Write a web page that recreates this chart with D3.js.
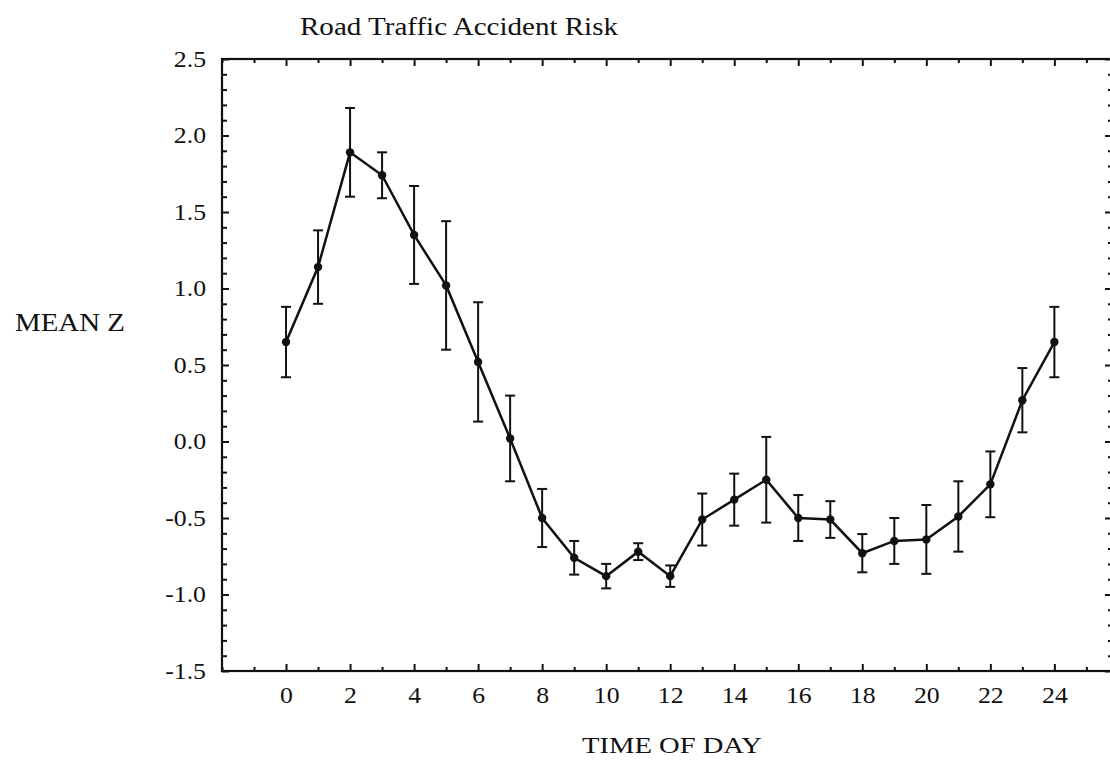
<!DOCTYPE html>
<html>
<head>
<meta charset="utf-8">
<script src="https://cdn.jsdelivr.net/npm/d3@7"></script>
<style>
  body { margin: 0; background: #fff; }
  text { font-family: "Liberation Serif", "Times New Roman", serif; fill: #111; }
</style>
</head>
<body>
<div id="chart"></div>
<script>
// hour of day and mean z score
var hours = [0, 1, 2, 3, 4, 5, 6, 7, 8, 9, 10, 11, 12, 13, 14, 15, 16, 17, 18, 19, 20, 21, 22, 23, 24];
var meanZ = [0.65, 1.14, 1.89, 1.74, 1.35, 1.02, 0.52, 0.02, -0.50, -0.76, -0.88, -0.72, -0.88, -0.51, -0.38, -0.25,
             -0.50, -0.51, -0.73, -0.65, -0.64, -0.49, -0.28, 0.27, 0.65];
// half length of each error bar
var errZ = [0.23, 0.24, 0.29, 0.15, 0.32, 0.42, 0.39, 0.28, 0.19, 0.11, 0.08, 0.055, 0.07, 0.17, 0.17, 0.28,
            0.15, 0.12, 0.125, 0.15, 0.225, 0.23, 0.215, 0.21, 0.23];
var xTickLabels = [0, 2, 4, 6, 8, 10, 12, 14, 16, 18, 20, 22, 24];
var yTickLabels = [-1.5, -1.0, -0.5, 0.0, 0.5, 1.0, 1.5, 2.0, 2.5];

var W = 1110, H = 760;
var plotLeft = 222, plotRight = 1112, plotTop = 59, plotBottom = 671;

var svg = d3.select("#chart").append("svg")
    .attr("width", W)
    .attr("height", H);

var x = d3.scaleLinear().domain([-2, 25.8]).range([plotLeft, plotRight]);
var y = d3.scaleLinear().domain([-1.5, 2.5]).range([plotBottom, plotTop]);

var xMinor = d3.range(-2, 26).filter(function(d) { return xTickLabels.indexOf(d) < 0; });
var yMinor = d3.range(-15, 26).map(function(d) { return d / 10; })
    .filter(function(d) { return Math.abs(Math.round(d * 2) - d * 2) > 1e-6; });

function styleAxis(g) {
  g.select(".domain").remove();
  g.selectAll(".tick line").attr("stroke", "#111").attr("stroke-width", 2);
  g.selectAll(".tick text")
    .style("font-size", "23px")
    .attr("fill", "#111")
    .each(function() {
      // the scanned labels are a little wider than the font
      var w = this.getComputedTextLength();
      if (w > 0) d3.select(this).attr("textLength", w * 1.12).attr("lengthAdjust", "spacingAndGlyphs");
    });
}

// bottom axis
svg.append("g")
  .attr("transform", "translate(0," + plotBottom + ")")
  .call(d3.axisBottom(x).tickValues(xTickLabels).tickSize(-7).tickPadding(16).tickFormat(d3.format("d")))
  .call(styleAxis);
svg.append("g")
  .attr("transform", "translate(0," + plotBottom + ")")
  .call(d3.axisBottom(x).tickValues(xMinor).tickSize(-4).tickFormat(""))
  .call(styleAxis);

// top axis
svg.append("g")
  .attr("transform", "translate(0," + plotTop + ")")
  .call(d3.axisTop(x).tickValues(xTickLabels).tickSize(-7).tickFormat(""))
  .call(styleAxis);
svg.append("g")
  .attr("transform", "translate(0," + plotTop + ")")
  .call(d3.axisTop(x).tickValues(xMinor).tickSize(-4).tickFormat(""))
  .call(styleAxis);

// left axis
svg.append("g")
  .attr("transform", "translate(" + plotLeft + ",0)")
  .call(d3.axisLeft(y).tickValues(yTickLabels).tickSize(-7).tickPadding(16)
        .tickFormat(function(d) { return d.toFixed(1); }))
  .call(styleAxis);
svg.append("g")
  .attr("transform", "translate(" + plotLeft + ",0)")
  .call(d3.axisLeft(y).tickValues(yMinor).tickSize(-5).tickFormat(""))
  .call(styleAxis);

// right axis
svg.append("g")
  .attr("transform", "translate(" + plotRight + ",0)")
  .call(d3.axisRight(y).tickValues(yTickLabels).tickSize(-7).tickFormat(""))
  .call(styleAxis);
svg.append("g")
  .attr("transform", "translate(" + plotRight + ",0)")
  .call(d3.axisRight(y).tickValues(yMinor).tickSize(-4).tickFormat(""))
  .call(styleAxis);

// frame
svg.append("rect")
  .attr("x", plotLeft)
  .attr("y", plotTop)
  .attr("width", plotRight - plotLeft)
  .attr("height", plotBottom - plotTop)
  .attr("fill", "none")
  .attr("stroke", "#111")
  .attr("stroke-width", 2.2);

var data = hours.map(function(h, i) { return {h: h, z: meanZ[i], e: errZ[i]}; });

// error bars
var bars = svg.append("g").attr("stroke", "#111").attr("stroke-width", 2);
bars.selectAll("line.v").data(data).enter().append("line")
  .attr("class", "v")
  .attr("x1", function(d) { return x(d.h); })
  .attr("x2", function(d) { return x(d.h); })
  .attr("y1", function(d) { return y(d.z + d.e); })
  .attr("y2", function(d) { return y(d.z - d.e); });
bars.selectAll("line.top").data(data).enter().append("line")
  .attr("class", "top")
  .attr("x1", function(d) { return x(d.h) - 5; })
  .attr("x2", function(d) { return x(d.h) + 5; })
  .attr("y1", function(d) { return y(d.z + d.e); })
  .attr("y2", function(d) { return y(d.z + d.e); });
bars.selectAll("line.bot").data(data).enter().append("line")
  .attr("class", "bot")
  .attr("x1", function(d) { return x(d.h) - 5; })
  .attr("x2", function(d) { return x(d.h) + 5; })
  .attr("y1", function(d) { return y(d.z - d.e); })
  .attr("y2", function(d) { return y(d.z - d.e); });

// mean line
var valueline = d3.line()
  .x(function(d) { return x(d.h); })
  .y(function(d) { return y(d.z); });

svg.append("path")
  .datum(data)
  .attr("fill", "none")
  .attr("stroke", "#111")
  .attr("stroke-width", 2.5)
  .attr("d", valueline);

svg.selectAll("circle.pt").data(data).enter().append("circle")
  .attr("class", "pt")
  .attr("cx", function(d) { return x(d.h); })
  .attr("cy", function(d) { return y(d.z); })
  .attr("r", 4.2)
  .attr("fill", "#111");

// titles
svg.append("text")
  .attr("x", 300)
  .attr("y", 35)
  .attr("textLength", 318)
  .attr("lengthAdjust", "spacingAndGlyphs")
  .style("font-size", "25px")
  .text("Road Traffic Accident Risk");

svg.append("text")
  .attr("x", 15)
  .attr("y", 331)
  .attr("textLength", 110)
  .attr("lengthAdjust", "spacingAndGlyphs")
  .style("font-size", "25px")
  .text("MEAN Z");

svg.append("text")
  .attr("x", 582)
  .attr("y", 753)
  .attr("textLength", 180)
  .attr("lengthAdjust", "spacingAndGlyphs")
  .style("font-size", "24px")
  .text("TIME OF DAY");
</script>
</body>
</html>
